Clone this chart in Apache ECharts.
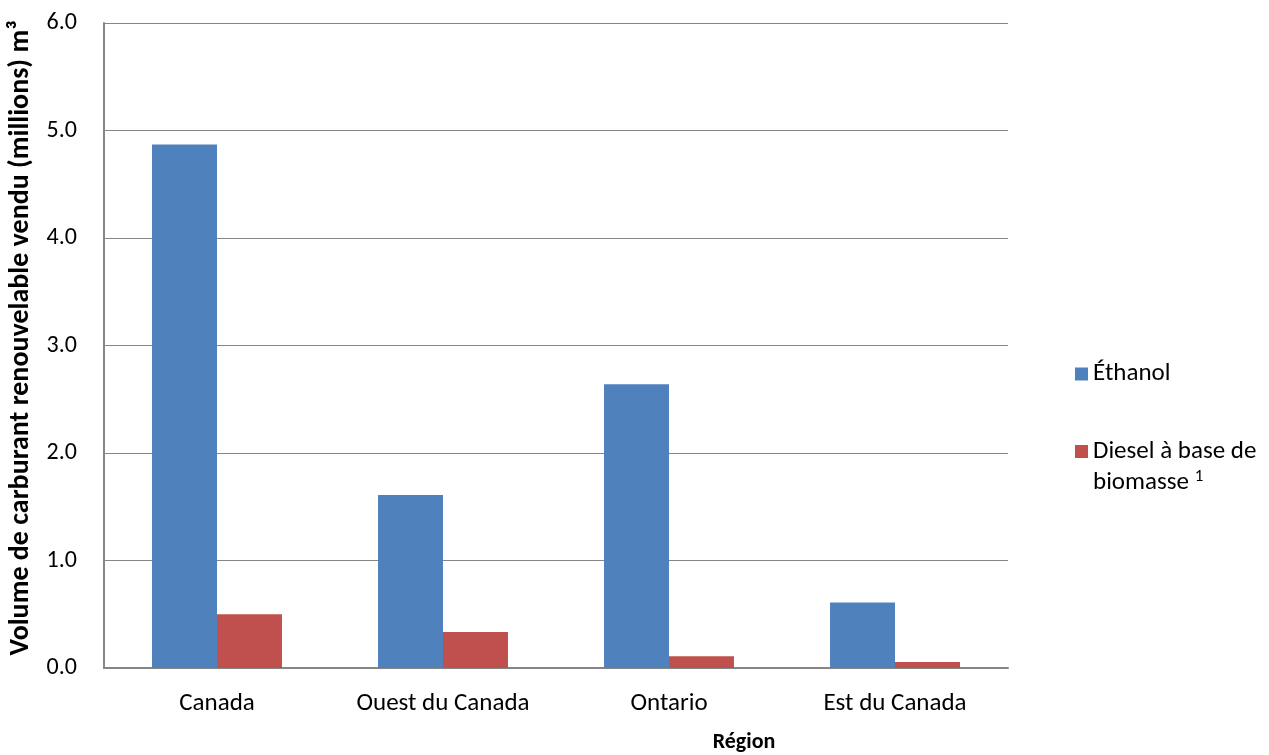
<!DOCTYPE html>
<html><head><meta charset="utf-8">
<script src="https://cdn.jsdelivr.net/npm/echarts@6/dist/echarts.min.js"></script>
<style>html,body{margin:0;padding:0;background:#fff}#c{width:1269px;height:755px}</style>
</head><body><div id="c"></div>
<script>
var categories = ['Canada', 'Ouest du Canada', 'Ontario', 'Est du Canada'];
var ethanol = [4.87, 1.61, 2.64, 0.61];
var diesel = [0.50, 0.335, 0.11, 0.055];
var seriesNames = ['Éthanol', 'Diesel à base de\nbiomasse ¹'];
var yTicks = ['0.0', '1.0', '2.0', '3.0', '4.0', '5.0', '6.0'];
var yTitle = 'Volume de carburant renouvelable vendu (millions) m³';
var xTitle = 'Région';

var FONT = "Carlito, 'Open Sans', sans-serif";
var chart = echarts.init(document.getElementById('c'), null, {renderer: 'canvas'});
chart.setOption({
  animation: false,
  backgroundColor: '#fff',
  textStyle: {fontFamily: FONT},
  grid: {left: 104, right: 261, top: 23, bottom: 87, containLabel: false, outerBoundsMode: 'none'},
  legend: {
    orient: 'vertical',
    left: 1070,
    top: 347,
    itemWidth: 13,
    itemHeight: 44,
    itemGap: 40,
    formatter: function (n) { return n.replace(' ¹', ' {sup|1}'); },
    textStyle: {fontFamily: FONT, fontSize: 25, color: '#000', lineHeight: 31,
      rich: {sup: {fontFamily: FONT, fontSize: 17, verticalAlign: 'top', lineHeight: 17, padding: [1, 0, 0, 0]}}},
    data: [
      {name: seriesNames[0], icon: 'path://M0,0L0.01,0M0,15.5h13v13h-13zM0,44L0.01,44'},
      {name: seriesNames[1], icon: 'path://M0,0h13v13h-13zM0,44L0.01,44'}
    ]
  },
  xAxis: {
    type: 'category',
    data: categories,
    axisLine: {lineStyle: {color: '#868686', width: 2}},
    axisTick: {show: false},
    axisLabel: {color: '#000', fontSize: 25, margin: 23, fontFamily: FONT}
  },
  yAxis: {
    type: 'value',
    min: 0, max: 6, interval: 1,
    axisLine: {show: true, lineStyle: {color: '#868686', width: 2}},
    axisTick: {show: false},
    splitLine: {lineStyle: {color: '#868686', width: 1}},
    axisLabel: {color: '#000', fontSize: 24, margin: 27, fontFamily: FONT,
      formatter: function (v) { return yTicks[Math.round(v)]; }}
  },
  graphic: [{
    type: 'text', x: 744, y: 742,
    style: {text: xTitle, font: "bold 22px " + FONT, fill: '#000', align: 'center', verticalAlign: 'middle'}
  }, {
    type: 'text', x: 21, y: 338, rotation: Math.PI / 2,
    style: {text: yTitle, font: "bold 28px " + FONT, fill: '#000', align: 'center', verticalAlign: 'middle'}
  }],
  series: [
    {name: seriesNames[0], type: 'bar', data: ethanol, barGap: '0%', barCategoryGap: '42.5%',
      itemStyle: {color: '#4F81BD'}},
    {name: seriesNames[1], type: 'bar', data: diesel,
      itemStyle: {color: '#C0504D'}}
  ]
});
</script></body></html>
